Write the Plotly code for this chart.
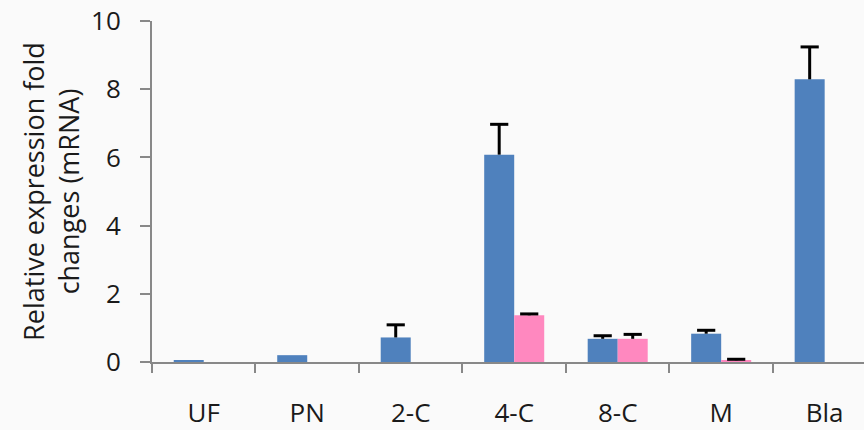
import plotly.graph_objects as go

# Developmental stages and expression levels (fold change, mRNA)
stages = ["UF", "PN", "2-C", "4-C", "8-C", "M", "Bla"]
blue_vals = [0.04, 0.20, 0.72, 6.08, 0.68, 0.83, 8.29]
blue_err = [None, None, 0.37, 0.89, 0.09, 0.10, 0.95]
pink_vals = [0.0, 0.0, 0.0, 1.37, 0.68, 0.05, 0.0]
pink_err = [None, None, None, 0.04, 0.13, 0.03, None]

FONT = "Open Sans, Segoe UI, sans-serif"
AXIS_GRAY = "#888888"
BLUE = "#4f81bd"
PINK = "#ff88bf"


def upper_error(vals, errs):
    """Tops of the upper-only error bars plus the stem length down to the bar."""
    tops, stems = [], []
    for v, e in zip(vals, errs):
        if e is None:
            tops.append(None)
            stems.append(0)
        else:
            tops.append(v + e)
            stems.append(e)
    return tops, stems


fig = go.Figure()
for vals, color in [(blue_vals, BLUE), (pink_vals, PINK)]:
    fig.add_trace(go.Bar(
        x=stages, y=vals, marker_color=color, marker_line_width=0,
        showlegend=False, hoverinfo="x+y",
    ))

# Error bars: stem from the bar top up, with a single cap on top
for errs, vals in [(blue_err, blue_vals), (pink_err, pink_vals)]:
    tops, stems = upper_error(vals, errs)
    fig.add_trace(go.Scatter(
        x=stages, y=tops, mode="markers",
        marker=dict(symbol="line-ew", size=13, line=dict(color="black", width=3)),
        error_y=dict(type="data", array=[0] * len(stems), arrayminus=stems,
                     symmetric=False, color="black", thickness=3, width=0),
        showlegend=False, hoverinfo="skip",
    ))

fig.update_layout(
    width=864, height=430,
    margin=dict(l=152, r=0, t=21, b=68),
    paper_bgcolor="#fafafa", plot_bgcolor="#fafafa",
    barmode="group", bargap=0.42, bargroupgap=0,
    scattermode="group", scattergap=0.42,
    font=dict(family=FONT, size=26, color="#1a1a1a"),
)
fig.update_xaxes(
    range=[-0.5, 6.38], automargin=False,
    showline=True, linecolor=AXIS_GRAY, linewidth=2,
    ticks="outside", tickson="boundaries", ticklen=9, tickwidth=2, tickcolor=AXIS_GRAY,
    ticklabelstandoff=27, tickfont=dict(size=26),
    showgrid=False, zeroline=False,
)
fig.update_yaxes(
    range=[0, 10], tickvals=[0, 2, 4, 6, 8, 10], automargin=False,
    showline=True, linecolor=AXIS_GRAY, linewidth=2,
    ticks="outside", ticklen=10, tickwidth=2, tickcolor=AXIS_GRAY,
    ticklabelstandoff=14, tickfont=dict(size=26),
    showgrid=False, zeroline=False,
    title=dict(text="Relative expression fold<br>changes (mRNA)", font=dict(size=27), standoff=4),
)

fig.write_html("out.html", config={"displayModeBar": False})
